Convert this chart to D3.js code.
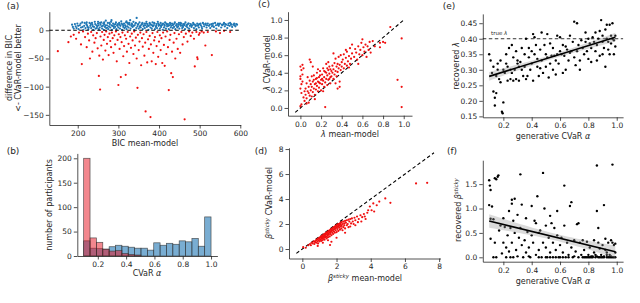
<!DOCTYPE html>
<html lang="en">
<head>
<meta charset="utf-8">
<title>CVaR vs mean model</title>
<script src="https://cdnjs.cloudflare.com/ajax/libs/d3/7.8.5/d3.min.js"></script>
<style>
body { margin: 0; background: #fff; }
svg text { font-family: "DejaVu Sans", sans-serif; fill: #262626; }
.axis path, .axis line { stroke: #262626; stroke-width: 0.8; }
.axis text { font-size: 7.5px; }
.lab { font-size: 8px; }
.plab { font-size: 9px; }
</style>
</head>
<body>
<script>
var w = 640, h = 303;

// (a) BIC mean-model vs BIC difference
var aBlue = [[186,10],[190,3],[195,7],[199,12],[202,2],[205,9],[208,5],[211,14],[214,1],[216,8],[219,4],[221,11],[224,6],[226,2],[229,13],[231,8],[233,4],[236,10],[238,1],[240,6],[242,15],[244,3],[246,9],[248,7],[250,12],[252,2],[254,5],[256,10],[258,14],[260,3],[262,8],[264,1],[265,11],[267,6],[269,17],[270,4],[272,9],[274,13],[275,2],[277,7],[279,11],[280,5],[282,15],[284,1],[285,8],[287,12],[289,4],[290,10],[292,6],[294,14],[295,2],[297,9],[299,11],[300,5],[302,13],[304,3],[305,8],[307,16],[309,1],[310,10],[312,6],[314,12],[315,4],[317,9],[319,14],[320,2],[322,7],[324,11],[325,5],[327,13],[329,18],[330,3],[332,8],[334,10],[335,6],[337,15],[339,1],[340,9],[342,12],[344,4],[345,22],[347,7],[349,11],[350,3],[352,14],[354,8],[355,5],[357,10],[359,13],[360,2],[362,7],[364,12],[365,4],[367,9],[369,15],[370,6],[372,11],[374,1],[375,8],[377,13],[379,5],[380,10],[382,3],[384,14],[385,7],[387,9],[389,12],[390,2],[392,6],[394,11],[395,4],[397,15],[399,8],[400,10],[402,3],[404,13],[405,6],[407,9],[409,1],[410,12],[412,5],[414,8],[415,14],[417,3],[419,10],[420,7],[422,11],[424,2],[425,9],[427,13],[429,5],[430,8],[432,12],[434,4],[435,10],[437,6],[439,14],[440,2],[442,9],[444,11],[445,5],[447,7],[449,13],[450,3],[452,10],[454,8],[455,12],[457,4],[459,6],[460,11],[462,9],[464,2],[465,14],[467,7],[469,10],[470,5],[472,12],[474,3],[476,8],[478,11],[480,6],[482,9],[484,13],[486,4],[488,10],[490,7],[492,2],[494,12],[496,8],[498,5],[500,11],[503,9],[506,3],[508,13],[511,7],[514,10],[517,5],[520,12],[523,8],[526,4],[529,11],[532,9],[535,6],[538,13],[541,3],[544,10],[547,8],[550,12],[553,5],[556,9],[559,11],[562,7],[565,10],[568,4],[571,12],[574,8],[577,11],[580,6],[583,10],[586,9],[590,11],[588,7],[575,13],[560,13],[545,12],[530,7],[515,12],[505,6],[320,16],[283,18],[265,14],[250,15],[235,13],[222,14],
  [188,6],[193,11],[197,4],[201,8],[207,12],[212,6],[217,13],[223,9],[227,5],[232,11],[237,7],[243,11],[247,4],[251,9],[255,13],[259,7],[263,12],[268,9],[273,5],[278,13],[283,9],[288,7],[293,11],[298,8],[303,10],[308,12],[313,9],[318,6],[323,13],[328,10],[333,12],[338,8],[343,13],[348,10],[353,6],[358,11],[363,9],[368,12],[373,8],[378,11],[383,9],[388,13],[393,8],[398,12],[403,9],[408,11],[413,10],[418,12],[423,8],[428,11],[433,9],[438,12],[443,8],[448,10],[453,13],[458,9],[463,11],[468,8],[473,12],[479,9],[485,11],[491,9],[497,10],[502,12],[510,11],[518,9],[525,10],[533,12],[540,9],[548,11],[555,10],[563,11],[570,9],[578,10],[585,12],[592,10]];
var aRed = [[151,-37],[177,-21],[183,-11],[190,-8],[196,-15],[203,-4],[208,-25],[210,-60],[213,-2],[218,-12],[222,-30],[225,-6],[228,-18],[230,-50],[233,-3],[236,-38],[238,-9],[241,-22],[244,-14],[247,-5],[249,-32],[252,-81],[253,-45],[255,-105],[256,-11],[258,-27],[260,-3],[262,-52],[264,-17],[266,-8],[268,-36],[270,-2],[272,-24],[274,-12],[276,-44],[278,-6],[280,-19],[282,-30],[284,-4],[286,-14],[288,-40],[290,-9],[292,-25],[294,-2],[296,-55],[298,-17],[300,-97],[301,-7],[303,-33],[305,-12],[306,-83],[308,-21],[310,-4],[312,-46],[314,-28],[316,-9],[318,-79],[319,-15],[321,-38],[323,-3],[325,-24],[327,-58],[329,-11],[331,-31],[333,-6],[335,-18],[337,-42],[339,-2],[341,-27],[343,-13],[345,-50],[347,-102],[348,-8],[350,-35],[352,-20],[354,-4],[356,-62],[358,-14],[360,-29],[362,-7],[364,-45],[366,-22],[367,-144],[369,-3],[371,-57],[373,-16],[375,-33],[377,-10],[379,-154],[380,-25],[382,-55],[384,-5],[386,-40],[388,-18],[390,-12],[392,-60],[394,-28],[396,-3],[398,-47],[400,-20],[402,-9],[404,-35],[406,-14],[408,-58],[410,-4],[412,-26],[414,-63],[416,-11],[418,-42],[420,-2],[422,-30],[424,-106],[426,-17],[428,-8],[430,-76],[432,-38],[434,-83],[436,-22],[438,-5],[440,-50],[443,-15],[446,-33],[449,-7],[452,-40],[455,-3],[458,-25],[461,-12],[463,-158],[466,-6],[470,-20],[474,-2],[478,-10],[482,-4],[486,-15],[488,-64],[492,-3],[494,-48],[495,-51],[498,-8],[500,-5],[505,-2],[510,-4],[514,-27],[520,-3],[530,-44],[540,-2],[550,-5],[560,-1],[575,-3]];

// (b) histogram of CVaR alpha, 20 bins from 0.1 to 1.0
var binEdges = [0.1,0.145,0.19,0.235,0.28,0.325,0.37,0.415,0.46,0.505,0.55,0.595,0.64,0.685,0.73,0.775,0.82,0.865,0.91,0.955,1.0];
var histBlue = [31,16,15,14,19,22,20,18,16,16,12,27,22,26,24,31,29,36,20,80];
var histRed = [200,37,28,14,10,11,5,3,2,0,0,0,0,0,0,0,0,0,0,0];

// (c) lambda mean-model vs lambda CVaR-model
var cPts = [[0.0,0.02],[0.01,0.04],[0.0,0.22],[0.01,0.27],[0.0,0.33],[0.02,0.38],[0.01,0.43],[0.0,0.47],[0.02,0.49],[0.01,0.17],[0.03,0.12],[0.02,0.30],[0.03,0.45],[0.0,0.36],[0.04,0.08],[0.05,0.15],[0.05,0.22],[0.06,0.11],[0.06,0.28],[0.07,0.19],[0.07,0.35],[0.08,0.06],[0.08,0.24],[0.09,0.14],[0.09,0.31],[0.1,0.2],[0.1,0.27],[0.04,0.19],[0.06,0.05],[0.08,0.17],[0.1,0.52],[0.09,0.55],[0.11,0.13],[0.11,0.24],[0.12,0.3],[0.12,0.18],[0.13,0.22],[0.13,0.37],[0.14,0.27],[0.14,0.15],[0.15,0.33],[0.15,0.21],[0.16,0.25],[0.16,0.4],[0.17,0.19],[0.17,0.3],[0.18,0.35],[0.18,0.23],[0.19,0.28],[0.19,0.42],[0.2,0.32],[0.2,0.2],[0.12,0.47],[0.14,0.1],[0.16,0.34],[0.18,0.29],[0.11,0.36],[0.15,0.28],[0.17,0.44],[0.19,0.37],[0.13,0.32],[0.21,0.27],[0.21,0.38],[0.22,0.31],[0.22,0.45],[0.23,0.24],[0.23,0.35],[0.24,0.41],[0.24,0.29],[0.25,0.33],[0.25,0.5],[0.26,0.37],[0.26,0.26],[0.27,0.43],[0.27,0.32],[0.28,0.39],[0.28,0.47],[0.29,0.35],[0.29,0.28],[0.3,0.42],[0.3,0.36],[0.22,0.19],[0.24,0.01],[0.26,0.45],[0.28,0.33],[0.23,0.42],[0.27,0.52],[0.21,0.33],[0.25,0.4],[0.29,0.44],[0.31,0.4],[0.31,0.48],[0.32,0.33],[0.32,0.44],[0.33,0.51],[0.33,0.38],[0.34,0.42],[0.34,0.56],[0.35,0.36],[0.35,0.47],[0.36,0.5],[0.36,0.41],[0.37,0.45],[0.37,0.58],[0.38,0.3],[0.38,0.49],[0.39,0.43],[0.39,0.6],[0.4,0.52],[0.4,0.47],[0.32,0.62],[0.34,0.28],[0.36,0.22],[0.38,0.24],[0.41,0.55],[0.42,0.45],[0.42,0.61],[0.43,0.5],[0.44,0.57],[0.45,0.48],[0.45,0.64],[0.46,0.53],[0.47,0.59],[0.48,0.5],[0.48,0.68],[0.49,0.56],[0.5,0.62],[0.5,0.72],[0.44,0.66],[0.47,0.46],[0.52,0.58],[0.53,0.67],[0.54,0.63],[0.55,0.55],[0.56,0.7],[0.57,0.61],[0.58,0.66],[0.59,0.74],[0.6,0.6],[0.61,0.69],[0.62,0.64],[0.63,0.72],[0.64,0.58],[0.65,0.7],[0.66,0.66],[0.68,0.63],[0.7,0.76],[0.72,0.7],[0.56,0.5],[0.6,0.78],[0.67,0.75],[0.77,0.74],[0.77,0.69],[0.82,0.74],[0.87,0.92],[0.98,0.79],[0.94,0.32],[0.98,0.24],[0.98,0.01],[0.8,0.75]];
var cDiag = [-0.05, 1.0];

// (d) beta sticky mean-model vs CVaR-model
var dPts = [[0.05,0.15],[0.2,0.1],[0.35,0.3],[0.45,0.4],[0.5,0.3],[0.55,0.5],[0.6,0.45],[0.65,0.6],[0.7,0.4],[0.72,0.62],[0.75,0.55],[0.8,0.7],[0.82,0.5],[0.85,0.75],[0.88,0.62],[0.9,0.8],[0.92,0.45],[0.95,0.85],[0.97,0.7],[1.0,0.9],[1.0,0.6],[1.02,0.8],[1.05,0.95],[1.08,0.75],[1.1,1.0],[1.1,0.65],[1.12,0.9],[1.15,1.05],[1.15,0.85],[1.18,0.7],[1.2,1.1],[1.2,0.95],[1.22,0.8],[1.25,1.15],[1.25,1.0],[1.28,0.9],[1.3,1.2],[1.3,0.75],[1.32,1.05],[1.35,1.25],[1.35,0.95],[1.38,1.15],[1.4,1.3],[1.4,1.0],[1.42,0.85],[1.45,1.2],[1.45,1.35],[1.48,1.1],[1.5,1.4],[1.5,0.95],[1.52,1.25],[1.55,1.45],[1.55,1.15],[1.58,1.3],[1.6,1.5],[1.6,1.0],[1.62,0.32],[1.62,1.35],[1.65,1.55],[1.65,1.2],[1.68,1.4],[1.7,0.58],[1.7,1.6],[1.7,1.1],[1.72,1.45],[1.75,1.65],[1.75,1.3],[1.78,1.5],[1.8,1.7],[1.8,1.2],[1.82,1.55],[1.85,1.75],[1.85,1.4],[1.88,1.6],[1.9,1.8],[1.9,1.3],[1.92,1.65],[1.95,1.85],[1.95,1.5],[1.98,1.7],[2.0,1.9],[2.0,1.35],[2.02,1.75],[2.05,1.95],[2.05,1.6],[2.08,1.8],[2.1,2.0],[2.1,1.45],[2.12,1.85],[2.15,2.0],[2.15,1.7],[2.18,1.9],[2.2,2.05],[2.2,1.55],[2.22,1.8],[2.25,2.1],[2.25,1.95],[2.28,1.65],[2.3,2.15],[2.3,1.85],[2.35,2.0],[2.35,1.5],[2.4,2.2],[2.4,1.75],[2.45,2.05],[2.45,1.9],[2.5,2.25],[2.5,1.65],[2.55,2.1],[2.6,2.3],[2.6,1.9],[2.65,2.0],[2.7,2.35],[2.7,1.75],[2.75,2.2],[2.8,1.8],[2.8,2.4],[2.85,2.05],[2.9,2.45],[2.95,2.2],[3.0,2.0],[3.05,2.5],[3.1,1.9],[3.1,2.3],[3.2,2.6],[3.25,2.15],[3.3,2.4],[3.4,2.7],[3.45,2.2],[3.5,2.55],[3.6,2.8],[3.65,2.6],[3.7,2.4],[3.8,2.9],[3.85,3.1],[3.95,3.4],[4.05,3.1],[4.15,3.65],[4.2,3.0],[4.35,3.5],[4.5,3.8],[4.85,4.05],[5.15,3.7],[6.65,5.25],[7.3,5.3],[2.0,0.9],[1.5,0.7],[1.2,0.5],[0.9,0.25],[2.5,1.3]];
var dDiag = [-0.35, 7.7];

// (e) generative CVaR alpha vs recovered lambda
var trueLambda = 0.40;
var ePts = [[0.1,0.35],[0.11,0.33],[0.12,0.29],[0.13,0.31],[0.13,0.23],[0.14,0.21],[0.14,0.185],[0.15,0.225],[0.15,0.28],[0.16,0.3],[0.17,0.27],[0.18,0.33],[0.18,0.26],[0.19,0.165],[0.195,0.16],[0.2,0.195],[0.2,0.3],[0.21,0.29],[0.22,0.35],[0.22,0.32],[0.23,0.31],[0.24,0.37],[0.25,0.3],[0.25,0.27],[0.26,0.38],[0.27,0.34],[0.27,0.265],[0.28,0.3],[0.29,0.27],[0.29,0.36],[0.3,0.32],[0.3,0.33],[0.31,0.265],[0.31,0.31],[0.32,0.325],[0.33,0.3],[0.33,0.37],[0.34,0.28],[0.35,0.35],[0.35,0.31],[0.36,0.27],[0.37,0.28],[0.38,0.34],[0.38,0.37],[0.39,0.3],[0.4,0.32],[0.41,0.415],[0.41,0.265],[0.42,0.405],[0.42,0.35],[0.43,0.38],[0.44,0.31],[0.44,0.335],[0.45,0.28],[0.46,0.365],[0.47,0.42],[0.47,0.33],[0.48,0.29],[0.49,0.38],[0.5,0.35],[0.5,0.31],[0.51,0.415],[0.51,0.34],[0.52,0.275],[0.53,0.385],[0.53,0.32],[0.54,0.345],[0.55,0.3],[0.55,0.37],[0.56,0.345],[0.57,0.33],[0.57,0.285],[0.58,0.35],[0.59,0.32],[0.6,0.405],[0.6,0.36],[0.61,0.35],[0.62,0.29],[0.62,0.38],[0.63,0.345],[0.64,0.3],[0.65,0.365],[0.66,0.33],[0.67,0.41],[0.67,0.355],[0.68,0.36],[0.69,0.39],[0.7,0.455],[0.7,0.34],[0.71,0.315],[0.72,0.36],[0.72,0.45],[0.73,0.38],[0.74,0.33],[0.75,0.395],[0.76,0.37],[0.77,0.35],[0.78,0.42],[0.78,0.39],[0.79,0.36],[0.8,0.4],[0.8,0.335],[0.81,0.385],[0.82,0.37],[0.82,0.325],[0.83,0.405],[0.84,0.39],[0.85,0.36],[0.85,0.42],[0.86,0.38],[0.87,0.4],[0.88,0.345],[0.88,0.425],[0.89,0.46],[0.9,0.39],[0.9,0.41],[0.91,0.37],[0.92,0.31],[0.92,0.43],[0.93,0.445],[0.93,0.4],[0.94,0.365],[0.94,0.39],[0.95,0.35],[0.95,0.445],[0.96,0.41],[0.96,0.385],[0.97,0.45],[0.97,0.4],[0.98,0.395],[0.98,0.35],[0.99,0.41],[0.99,0.375],[0.16,0.32],[0.23,0.265],[0.26,0.29],[0.36,0.4],[0.4,0.36],[0.46,0.305],[0.58,0.41],[0.64,0.375],[0.74,0.3],[0.86,0.33],[0.9,0.35]];

// (f) generative CVaR alpha vs recovered beta sticky
var fPts = [[0.1,1.58],[0.105,1.47],[0.11,1.38],[0.1,1.07],[0.12,1.04],[0.11,0.79],[0.13,0.78],[0.14,1.62],[0.15,1.6],[0.16,1.65],[0.165,1.68],[0.11,0.38],[0.14,0.3],[0.13,0.0],[0.15,0.0],[0.17,0.55],[0.18,0.65],[0.19,0.08],[0.2,0.8],[0.2,0.3],[0.21,0.62],[0.22,0.2],[0.22,0.0],[0.23,0.45],[0.24,0.95],[0.24,0.12],[0.25,0.6],[0.26,1.1],[0.26,1.18],[0.26,0.3],[0.27,0.75],[0.27,0.0],[0.28,1.2],[0.28,0.5],[0.29,0.15],[0.3,0.87],[0.3,0.02],[0.31,0.4],[0.32,1.7],[0.32,0.6],[0.33,0.25],[0.33,1.08],[0.34,0.0],[0.35,0.35],[0.36,0.8],[0.36,0.1],[0.37,0.52],[0.38,0.2],[0.39,0.0],[0.4,1.05],[0.4,0.45],[0.41,0.3],[0.42,0.75],[0.43,0.7],[0.43,0.05],[0.44,1.25],[0.45,0.5],[0.45,0.15],[0.46,0.55],[0.47,0.0],[0.48,0.3],[0.48,1.73],[0.49,1.0],[0.5,0.2],[0.5,0.65],[0.51,0.0],[0.52,0.4],[0.53,0.85],[0.53,0.1],[0.54,0.7],[0.55,0.0],[0.55,0.3],[0.56,0.6],[0.57,0.15],[0.58,0.95],[0.58,0.45],[0.59,0.0],[0.6,0.25],[0.61,0.4],[0.62,0.1],[0.63,1.47],[0.63,0.65],[0.64,0.0],[0.65,0.3],[0.66,0.05],[0.67,1.05],[0.68,1.13],[0.68,0.2],[0.69,0.0],[0.7,0.35],[0.71,0.12],[0.72,0.68],[0.73,0.7],[0.73,0.0],[0.74,0.3],[0.75,0.05],[0.76,0.35],[0.77,0.15],[0.78,0.0],[0.79,0.32],[0.8,0.05],[0.8,0.0],[0.81,0.2],[0.82,0.02],[0.83,0.0],[0.84,0.1],[0.84,0.35],[0.85,0.0],[0.86,1.88],[0.86,0.95],[0.87,0.6],[0.87,0.3],[0.88,0.0],[0.89,0.05],[0.9,0.25],[0.91,1.07],[0.91,0.0],[0.92,0.38],[0.93,0.1],[0.93,0.0],[0.94,0.3],[0.95,0.05],[0.96,0.0],[0.96,0.35],[0.97,1.9],[0.97,0.3],[0.98,0.25],[0.98,0.0],[0.99,0.1],[0.99,0.28],[0.45,0.0],[0.6,0.0],[0.7,0.02],[0.76,0.0],[0.82,0.0],[0.86,0.02],[0.9,0.0],[0.95,0.0],[0.25,0.0],[0.38,0.02],[0.53,0.0],
  [0.77,0.0],[0.79,0.0],[0.81,0.0],[0.83,0.02],[0.85,0.05],[0.87,0.0],[0.89,0.0],[0.91,0.02],[0.93,0.05],[0.94,0.0],[0.96,0.02],[0.97,0.0],[0.99,0.0],[0.92,0.15],[0.88,0.18],[0.62,0.0],[0.66,0.0],[0.57,0.0],[0.5,0.0]];

var svg = d3.select("body").append("svg")
            .attr("width", w)
            .attr("height", h);

// set up one panel: scales plus left/bottom spines
function panel(box, xDom, yDom, xTicks, yTicks, xFmt, yFmt) {
  var x = d3.scaleLinear().domain(xDom).range([box.l, box.r]);
  var y = d3.scaleLinear().domain(yDom).range([box.b, box.t]);
  svg.append("g").attr("class", "axis")
     .attr("transform", "translate(0," + box.b + ")")
     .call(d3.axisBottom(x).tickValues(xTicks).tickFormat(d3.format(xFmt))
             .tickSize(3.5).tickSizeOuter(0).tickPadding(2));
  svg.append("g").attr("class", "axis")
     .attr("transform", "translate(" + box.l + ",0)")
     .call(d3.axisLeft(y).tickValues(yTicks).tickFormat(d3.format(yFmt))
             .tickSize(3.5).tickSizeOuter(0).tickPadding(2));
  return {x: x, y: y};
}

function dots(p, data, r, col) {
  svg.append("g").selectAll("circle")
     .data(data).enter().append("circle")
     .attr("cx", function(d) { return p.x(d[0]); })
     .attr("cy", function(d) { return p.y(d[1]); })
     .attr("r", r)
     .attr("fill", col);
}

function label(txt, x, y, cls, rot) {
  var t = svg.append("text").attr("class", cls || "lab")
             .attr("text-anchor", "middle");
  if (rot) t.attr("transform", "translate(" + x + "," + y + ") rotate(-90)");
  else t.attr("x", x).attr("y", y);
  if (typeof txt === "string") { t.text(txt); return t; }
  txt.forEach(function(s) {
    var sp = t.append("tspan").text(s.t);
    if (s.i) sp.attr("font-style", "italic");
    if (s.sup) sp.attr("font-size", "5.5px").attr("dy", -3.5);
    if (s.down) sp.attr("dy", 3.5);
  });
  return t;
}

function diag(p, ext) {
  svg.append("line")
     .attr("x1", p.x(ext[0])).attr("y1", p.y(ext[0]))
     .attr("x2", p.x(ext[1])).attr("y2", p.y(ext[1]))
     .attr("stroke", "#000").attr("stroke-width", 1.1)
     .attr("stroke-dasharray", "3.5,2.5");
}

// linear fit with 95% band, as in regplot
function regline(p, data, xDom) {
  var n = data.length;
  var mx = d3.mean(data, function(d) { return d[0]; });
  var my = d3.mean(data, function(d) { return d[1]; });
  var sxx = d3.sum(data, function(d) { return (d[0] - mx) * (d[0] - mx); });
  var sxy = d3.sum(data, function(d) { return (d[0] - mx) * (d[1] - my); });
  var b = sxy / sxx, a = my - b * mx;
  var sse = d3.sum(data, function(d) { var e = d[1] - a - b * d[0]; return e * e; });
  var s = Math.sqrt(sse / (n - 2));
  var xs = d3.range(0, 41).map(function(i) { return xDom[0] + (xDom[1] - xDom[0]) * i / 40; });
  var band = xs.map(function(xv) {
    var se = s * Math.sqrt(1 / n + (xv - mx) * (xv - mx) / sxx);
    return [xv, a + b * xv - 1.96 * se, a + b * xv + 1.96 * se];
  });
  svg.append("path").datum(band)
     .attr("fill", "#999").attr("fill-opacity", 0.35)
     .attr("d", d3.area().x(function(d) { return p.x(d[0]); })
                         .y0(function(d) { return p.y(d[1]); })
                         .y1(function(d) { return p.y(d[2]); }));
  svg.append("line")
     .attr("x1", p.x(xDom[0])).attr("y1", p.y(a + b * xDom[0]))
     .attr("x2", p.x(xDom[1])).attr("y2", p.y(a + b * xDom[1]))
     .attr("stroke", "#000").attr("stroke-width", 1.6);
}

// ---- (a)
var pa = panel({l: 49.3, r: 240.7, t: 11.7, b: 125}, [130, 601], [-168, 33],
               [200, 300, 400, 500, 600], [0, -50, -100, -150], "d", "d");
dots(pa, aBlue, 1.1, "#1f77b4");
dots(pa, aRed, 1.1, "#f01010");
svg.append("line").attr("x1", 49.3).attr("x2", 240.7)
   .attr("y1", pa.y(0)).attr("y2", pa.y(0))
   .attr("stroke", "#000").attr("stroke-width", 1.1).attr("stroke-dasharray", "3.5,2.5");
label("(a)", 13, 9, "plab");
label("difference in BIC", 12, 68, "lab", true);
label("<- CVaR-model better", 21, 68, "lab", true);
label("BIC mean-model", 145, 146);

// ---- (b)
var pb = panel({l: 77.3, r: 217.4, t: 153.4, b: 256}, [0.055, 1.045], [0, 210],
               [0.2, 0.4, 0.6, 0.8, 1.0], [0, 50, 100, 150, 200], ".1f", "d");
function bars(counts, col, op) {
  svg.append("g").selectAll("rect")
     .data(counts).enter().append("rect")
     .attr("x", function(d, i) { return pb.x(binEdges[i]); })
     .attr("width", function(d, i) { return pb.x(binEdges[i + 1]) - pb.x(binEdges[i]); })
     .attr("y", function(d) { return pb.y(d); })
     .attr("height", function(d) { return pb.y(0) - pb.y(d); })
     .attr("fill", col).attr("fill-opacity", op)
     .attr("stroke", "#333").attr("stroke-opacity", function(d) { return d > 0 ? 0.8 : 0; })
     .attr("stroke-width", 0.7);
}
bars(histBlue, "#1f77b4", 0.6);
bars(histRed, "#e8101e", 0.5);
label("(b)", 13, 154, "plab");
label("number of participants", 52, 205, "lab", true);
label([{t: "CVaR "}, {t: "α", i: true}], 147, 276);

// ---- (c)
var pc = panel({l: 288, r: 412, t: 11.7, b: 115.7}, [-0.12, 1.08], [-0.088, 1.094],
               [0, 0.2, 0.4, 0.6, 0.8, 1.0], [0, 0.2, 0.4, 0.6, 0.8, 1.0], ".1f", ".1f");
diag(pc, cDiag);
dots(pc, cPts, 1.1, "#f01010");
label("(c)", 264, 7, "plab");
label([{t: "λ", i: true}, {t: " CVaR-model"}], 270, 63, "lab", true);
label([{t: "λ", i: true}, {t: " mean-model"}], 350, 137);

// ---- (d)
var pd = panel({l: 289, r: 440.5, t: 147.8, b: 258.5}, [-0.78, 8.08], [-0.76, 8.1],
               [0, 2, 4, 6, 8], [0, 2, 4, 6, 8], "d", "d");
diag(pd, dDiag);
dots(pd, dPts, 1.1, "#f01010");
label("(d)", 261, 154, "plab");
label([{t: "β", i: true}, {t: "sticky", i: true, sup: true}, {t: " CVaR-model", down: true}], 272, 203, "lab", true);
label([{t: "β", i: true}, {t: "sticky", i: true, sup: true}, {t: " mean-model", down: true}], 365, 281);

// ---- (e)
var pe = panel({l: 482.8, r: 623.1, t: 13.9, b: 117.3}, [0.055, 1.045], [0.147, 0.48],
               [0.2, 0.4, 0.6, 0.8, 1.0], [0.15, 0.2, 0.25, 0.3, 0.35, 0.4, 0.45], ".1f", ".2f");
svg.append("line").attr("x1", 482.8).attr("x2", 623.1)
   .attr("y1", pe.y(trueLambda)).attr("y2", pe.y(trueLambda))
   .attr("stroke", "#000").attr("stroke-width", 0.8).attr("stroke-dasharray", "3.5,2.5");
var tl = svg.append("text").attr("x", 491).attr("y", 35)
   .style("font-size", "5.5px").style("fill", "#262626").text("true ");
tl.append("tspan").attr("font-style", "italic").text("λ");
dots(pe, ePts, 1.2, "#000");
regline(pe, ePts, [0.1, 0.99]);
label("(e)", 449, 9, "plab");
label([{t: "recovered "}, {t: "λ", i: true}], 459, 66, "lab", true);
label([{t: "generative CVaR "}, {t: "α", i: true}], 553, 139);

// ---- (f)
var pf = panel({l: 482.8, r: 623.1, t: 160.2, b: 261.7}, [0.055, 1.045], [-0.09, 1.99],
               [0.2, 0.4, 0.6, 0.8, 1.0], [0, 0.5, 1.0, 1.5], ".1f", ".1f");
dots(pf, fPts, 1.2, "#000");
regline(pf, fPts, [0.1, 0.99]);
label("(f)", 452, 154, "plab");
label([{t: "recovered "}, {t: "β", i: true}, {t: "sticky", i: true, sup: true}], 461, 210, "lab", true);
label([{t: "generative CVaR "}, {t: "α", i: true}], 553, 284);
</script>
</body>
</html>
